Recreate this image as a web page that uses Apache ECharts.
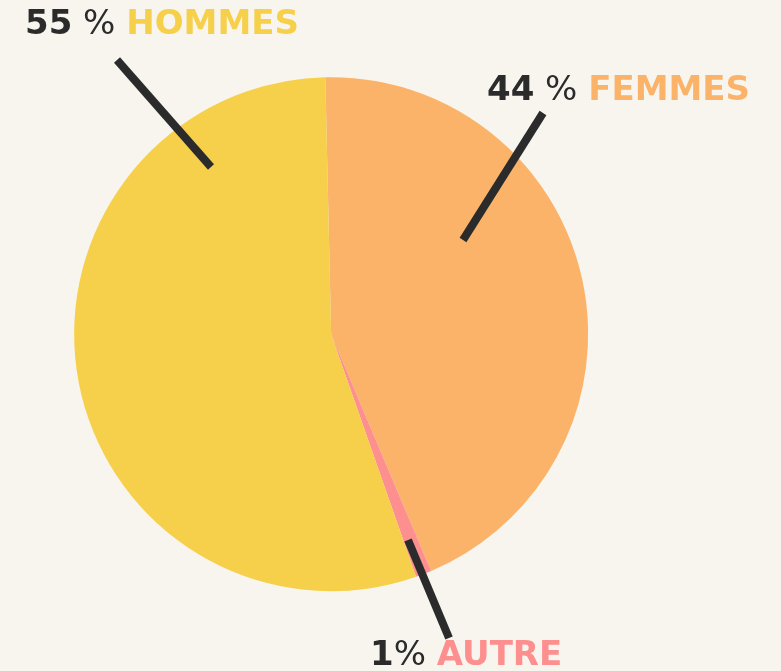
<!DOCTYPE html>
<html lang="fr">
<head>
    <meta charset="UTF-8">
    <title>Répartition</title>
    <script src="https://cdn.jsdelivr.net/npm/echarts@6/dist/echarts.min.js"></script>
    <style>
        html, body { margin: 0; padding: 0; background: #f8f5ee; }
        #main { width: 781px; height: 671px; }
    </style>
</head>
<body>
<div id="main"></div>
<script>
    // données
    var categories = ['FEMMES', 'AUTRE', 'HOMMES'];
    var values = [44, 1, 55];
    var pctLabels = ['44 %', '1%', '55 %'];
    var colors = ['#fbb36a', '#fd8f8f', '#f6d04b'];

    // position des étiquettes et des traits (px)
    var labelPos = [
        { x: 487, y: 91, line: [[463, 240], [543, 113]] },
        { x: 370, y: 656, line: [[408, 540], [449, 638]] },
        { x: 25, y: 25, line: [[211, 167], [117, 60]] }
    ];

    var chart = echarts.init(document.getElementById('main'));

    var pieData = categories.map(function (c, i) {
        return { name: c, value: values[i], itemStyle: { color: colors[i] } };
    });

    // 2e série transparente, au-dessus, juste pour les étiquettes + traits
    var labelData = categories.map(function (c, i) {
        var parts = pctLabels[i].split(/\s*%/);
        var sep = pctLabels[i].indexOf(' ') >= 0 ? ' ' : '';
        return {
            name: c,
            value: values[i],
            itemStyle: { color: 'rgba(0,0,0,0)' },
            label: {
                formatter: '{num|' + parts[0] + '}{pct|' + sep + '% }{cat|' + c + '}',
                rich: {
                    cat: { color: colors[i], fontSize: 34, fontWeight: 'bold', fontFamily: 'DejaVu Sans' }
                }
            }
        };
    });

    var common = {
        type: 'pie',
        center: ['42.4%', '49.8%'],
        radius: 257,
        startAngle: 91.3,
        clockwise: true,
        silent: true,
        avoidLabelOverlap: false
    };

    chart.setOption({
        backgroundColor: '#f8f5ee',
        animation: false,
        series: [
            Object.assign({}, common, {
                z: 2,
                data: pieData,
                label: { show: false },
                labelLine: { show: false }
            }),
            Object.assign({}, common, {
                z: 5,
                data: labelData,
                label: {
                    show: true,
                    position: 'outside',
                    overflow: 'none',
                    rich: {
                        num: { color: '#2b2b2b', fontSize: 34, fontWeight: 'bold', fontFamily: 'DejaVu Sans' },
                        pct: { color: '#2b2b2b', fontSize: 34, fontWeight: 'normal', fontFamily: 'DejaVu Sans' }
                    }
                },
                labelLine: {
                    show: true,
                    smooth: false,
                    lineStyle: { color: '#2b2b2b', width: 8, cap: 'butt' }
                },
                labelLayout: function (params) {
                    var p = labelPos[params.dataIndex];
                    return {
                        x: p.x,
                        y: p.y,
                        align: 'left',
                        verticalAlign: 'middle',
                        hideOverlap: false,
                        labelLinePoints: p.line
                    };
                }
            })
        ]
    });
</script>
</body>
</html>
